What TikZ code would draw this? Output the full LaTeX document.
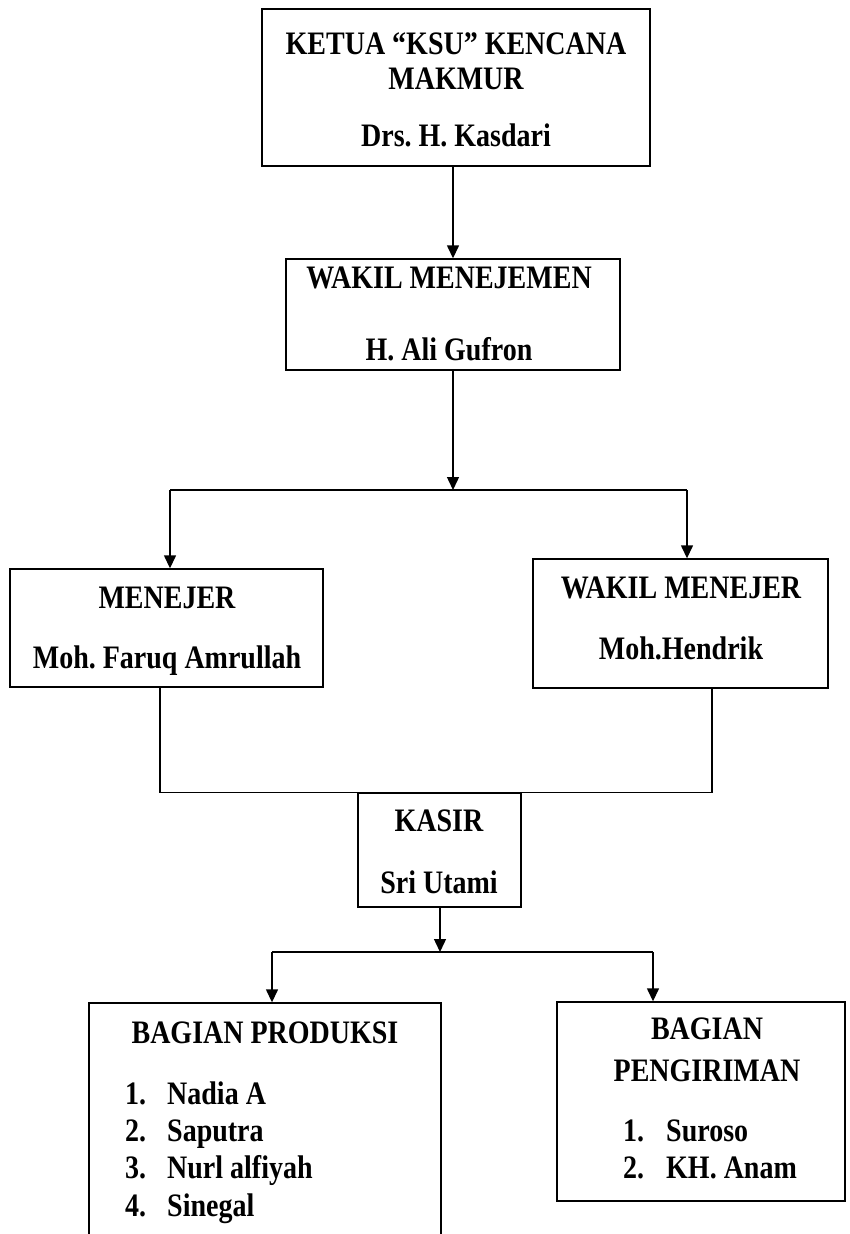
\documentclass[tikz,border=0pt]{standalone}
\usepackage{fontspec}
\usepackage{graphicx}
\setmainfont{Liberation Serif}
\usetikzlibrary{arrows.meta}
\newcommand{\tall}[1]{\scalebox{1}[1.17]{#1}}
\tikzset{
  box/.style={draw, line width=1.4pt, inner sep=0pt},
  lbl/.style={font=\fontsize{28}{32}\selectfont\bfseries\frenchspacing, inner sep=0pt, anchor=base},
  arr/.style={line width=1.4pt, -{Triangle[length=13pt,width=12pt]}},
  con/.style={line width=1.4pt}
}
\begin{document}
\begin{tikzpicture}[x=1pt,y=-1pt]
\clip (0,0) rectangle (850,1234);
\fill[white] (0,0) rectangle (850,1234);

% draw the boxes
\node[box, minimum width=388pt, minimum height=157pt] (ketua) at (456,87.5) {};
\node[box, minimum width=334pt, minimum height=111pt] (wakil) at (453,314.5) {};
\node[box, minimum width=313pt, minimum height=118pt] (menejer) at (166.5,628) {};
\node[box, minimum width=295pt, minimum height=129pt] (wakilmen) at (680.5,623.5) {};
\node[box, minimum width=163pt, minimum height=114pt] (kasir) at (439.5,850) {};
\node[box, minimum width=352pt, minimum height=280pt] (produksi) at (265,1143) {};
\node[box, minimum width=288pt, minimum height=199pt] (kirim) at (701,1101.5) {};

% draw the texts
\node[lbl] (ketuaA) at (456,54) {\tall{KETUA “KSU” KENCANA}};
\node[lbl] (ketuaB) at (456,89) {\tall{MAKMUR}};
\node[lbl] (ketuaC) at (456,146) {\tall{Drs. H. Kasdari}};
\node[lbl] (wakilA) at (449,288) {\tall{WAKIL MENEJEMEN}};
\node[lbl] (wakilB) at (449,360) {\tall{H. Ali Gufron}};
\node[lbl] (menejerA) at (167,608) {\tall{MENEJER}};
\node[lbl] (menejerB) at (167,668) {\tall{Moh. Faruq Amrullah}};
\node[lbl] (wakilmenA) at (681,598) {\tall{WAKIL MENEJER}};
\node[lbl] (wakilmenB) at (681,659) {\tall{Moh.Hendrik}};
\node[lbl] (kasirA) at (439,831) {\tall{KASIR}};
\node[lbl] (kasirB) at (439,893) {\tall{Sri Utami}};
\node[lbl] (produksiA) at (265,1043) {\tall{BAGIAN PRODUKSI}};
\node[lbl] (kirimA) at (707,1039) {\tall{BAGIAN}};
\node[lbl] (kirimB) at (707,1081) {\tall{PENGIRIMAN}};

% draw the lists
\foreach \nama [count=\i] in {Nadia A,Saputra,Nurl alfiyah,Sinegal}
{
  \node[lbl, anchor=base west] (pn\i) at (125,1104+37.4*\i-37.4) {\tall{\i.}};
  \node[lbl, anchor=base west] (pm\i) at (167,1104+37.4*\i-37.4) {\tall{\nama}};
}
\foreach \nama [count=\i] in {Suroso,KH. Anam}
{
  \node[lbl, anchor=base west] (kn\i) at (623,1141+37.4*\i-37.4) {\tall{\i.}};
  \node[lbl, anchor=base west] (km\i) at (666,1141+37.4*\i-37.4) {\tall{\nama}};
}

% draw the connectors
\coordinate (s1) at (453,490);
\coordinate (s1L) at (170,490);
\coordinate (s1R) at (687,490);
\coordinate (s2) at (440,952);
\coordinate (s2L) at (272,952);
\coordinate (s2R) at (653,952);
\draw[arr] (ketua.south -| wakil.north) -- (wakil.north);
\draw[arr] (wakil.south) -- (s1);
\draw[con] (s1L) -- (s1R);
\draw[arr] (s1L) -- (s1L |- menejer.north);
\draw[arr] (s1R) -- (s1R |- wakilmen.north);
\draw[con] ([xshift=-6.5pt]menejer.south) |- ([xshift=31.5pt]wakilmen.south |- kasir.north)
  -- ([xshift=31.5pt]wakilmen.south);
\draw[arr] (kasir.south -| s2) -- (s2);
\draw[con] (s2L) -- (s2R);
\draw[arr] (s2L) -- (s2L |- produksi.north);
\draw[arr] (s2R) -- (s2R |- kirim.north);
\end{tikzpicture}
\end{document}
